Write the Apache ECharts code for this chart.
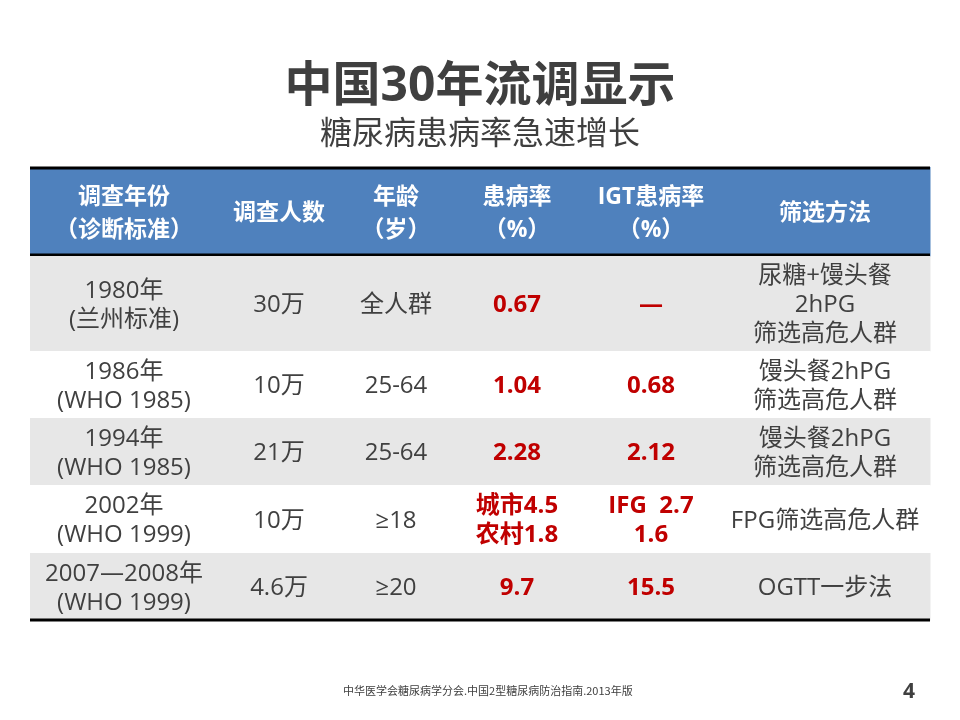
<!DOCTYPE html>
<html>
<head>
<meta charset="utf-8">
<style>
  html, body { margin: 0; padding: 0; background: #fff; }
  #app { width: 960px; height: 720px; }
</style>
<script src="https://cdn.jsdelivr.net/npm/echarts@6/dist/echarts.min.js"></script>
</head>
<body>
<div id="app"></div>
<script>
// 表格数据
const headers = ["调查年份\n（诊断标准）", "调查人数", "年龄\n（岁）", "患病率\n（%）", "IGT患病率\n（%）", "筛选方法"];
const years = ["1980年\n(兰州标准)", "1986年\n(WHO 1985)", "1994年\n(WHO 1985)", "2002年\n(WHO 1999)", "2007—2008年\n(WHO 1999)"];
const sampleSizes = ["30万", "10万", "21万", "10万", "4.6万"];
const ages = ["全人群", "25-64", "25-64", "≥18", "≥20"];
const prevalence = ["0.67", "1.04", "2.28", "城市4.5\n农村1.8", "9.7"];
const igtPrevalence = ["—", "0.68", "2.12", "IFG  2.7\n1.6", "15.5"];
const methods = ["尿糖+馒头餐\n2hPG\n筛选高危人群", "馒头餐2hPG\n筛选高危人群", "馒头餐2hPG\n筛选高危人群", "FPG筛选高危人群", "OGTT一步法"];

// 版式：列、行边界（坐标轴单位）
const colEdges = [0, 188, 310, 422, 552, 690, 900];
const rowEdges = [0, 89, 184, 251, 318, 386, 453];

const columns = [years, sampleSizes, ages, prevalence, igtPrevalence, methods];
const redCols = [3, 4];

const cells = [];
headers.forEach((h, c) => cells.push([c, 0, h]));
years.forEach((_, r) => {
  columns.forEach((col, c) => cells.push([c, r + 1, col[r]]));
});

const FONT = '"Open Sans", "Noto Sans CJK SC", sans-serif';
const CJK = '"Noto Sans CJK SC", sans-serif';

const myChart = echarts.init(document.getElementById("app"));

myChart.setOption({
  animation: false,
  title: [
    {
      text: "中国30年流调显示",
      left: "center",
      top: 58,
      textStyle: { fontSize: 48, fontWeight: "bold", color: "#3f3f3f", fontFamily: FONT }
    },
    {
      text: "糖尿病患病率急速增长",
      left: "center",
      top: 114,
      textStyle: { fontSize: 32, fontWeight: "normal", color: "#3f3f3f", fontFamily: FONT }
    },
    {
      text: "中华医学会糖尿病学分会.中国2型糖尿病防治指南.2013年版",
      left: 338,
      top: 680,
      textStyle: { fontSize: 11, fontWeight: "normal", color: "#404040", fontFamily: CJK }
    },
    {
      text: "4",
      left: 898,
      top: 677,
      textStyle: { fontSize: 21, fontWeight: "bold", color: "#404040", fontFamily: FONT }
    }
  ],
  grid: { left: 30, right: 30, top: 167, bottom: 100 },
  xAxis: { type: "value", min: 0, max: 900, show: false },
  yAxis: { type: "value", min: 0, max: 453, inverse: true, show: false },
  series: [
    {
      type: "custom",
      data: cells,
      clip: false,
      renderItem: (params, api) => {
        const c = api.value(0);
        const r = api.value(1);
        const text = cells[params.dataIndex][2];
        const p0 = api.coord([colEdges[c], rowEdges[r]]);
        const p1 = api.coord([colEdges[c + 1], rowEdges[r + 1]]);
        const w = p1[0] - p0[0];
        const h = p1[1] - p0[1];
        const isHeader = r === 0;
        const fill = isHeader ? "#4f81bd" : (r % 2 === 1 ? "#e7e7e7" : "#ffffff");
        const isRed = !isHeader && redCols.includes(c);
        const children = [
          {
            type: "rect",
            shape: { x: p0[0], y: p0[1], width: w + 0.5, height: h + 0.5 },
            style: { fill: fill }
          },
          {
            type: "text",
            style: {
              text: text,
              x: p0[0] + w / 2,
              y: p0[1] + h / 2 + 2,
              align: "center",
              verticalAlign: "middle",
              fill: isHeader ? "#ffffff" : (isRed ? "#c00000" : "#404040"),
              fontSize: isHeader ? 23 : 24,
              fontWeight: isHeader || isRed ? "bold" : "normal",
              fontFamily: FONT,
              lineHeight: isHeader ? 33 : 29
            }
          }
        ];
        // 粗黑线
        if (isHeader) {
          children.push({ type: "line", shape: { x1: p0[0], y1: p0[1] + 1, x2: p1[0], y2: p0[1] + 1 }, style: { stroke: "#000", lineWidth: 3 } });
          children.push({ type: "line", shape: { x1: p0[0], y1: p1[1] - 1, x2: p1[0], y2: p1[1] - 1 }, style: { stroke: "#000", lineWidth: 3 } });
        }
        if (r === rowEdges.length - 2) {
          children.push({ type: "line", shape: { x1: p0[0], y1: p1[1], x2: p1[0], y2: p1[1] }, style: { stroke: "#000", lineWidth: 3 } });
        }
        return { type: "group", children: children };
      }
    }
  ]
});
</script>
</body>
</html>
